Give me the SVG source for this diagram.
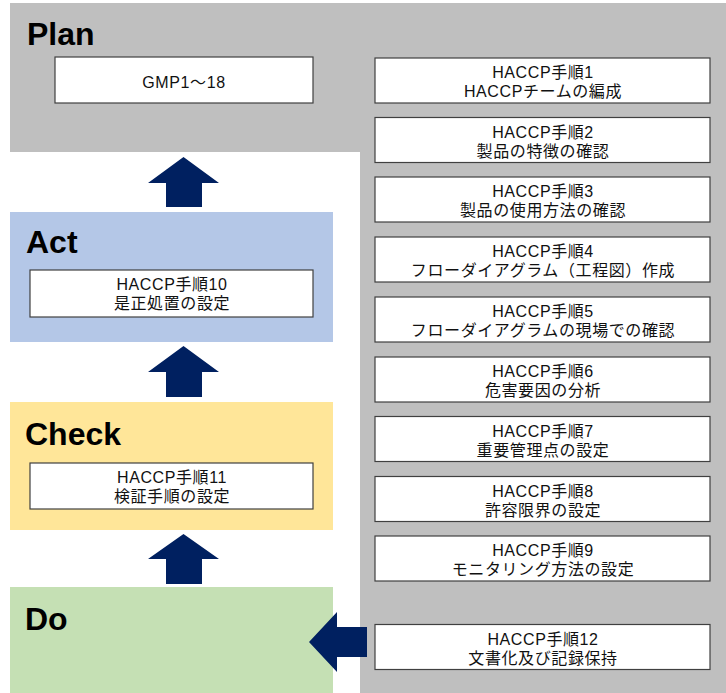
<svg xmlns="http://www.w3.org/2000/svg" width="726" height="693" viewBox="0 0 726 693">
<style>
.title{font-family:"Liberation Sans","Noto Sans",sans-serif;font-weight:bold;font-size:32px;fill:#000}
.box{fill:#fff;stroke:#404040;stroke-width:1.2}
.t{font-family:"Liberation Sans","Noto Sans CJK JP",sans-serif;font-size:16px;fill:#111;text-anchor:middle;letter-spacing:0.6px}
.arr{fill:#002060}
</style>
<rect width="726" height="693" fill="#fff"/>
<path d="M10,3 H726 V693 H360 V152 H10 Z" fill="#bfbfbf"/>
<g id="plan">
<text class="title" x="27" y="45">Plan</text>
</g>
<g id="act">
<rect x="10" y="212" width="323" height="130" fill="#b4c7e7"/>
<text class="title" x="26" y="253">Act</text>
</g>
<g id="check">
<rect x="10" y="402" width="323" height="128" fill="#ffe699"/>
<text class="title" x="25" y="445">Check</text>
</g>
<g id="do">
<rect x="10" y="587" width="323" height="106" fill="#c5e0b4"/>
<text class="title" x="25" y="630">Do</text>
</g>
<g id="gmp"><rect class="box" x="55" y="57" width="258" height="46"/><text class="t" x="184" y="88">GMP1～18</text></g>
<g id="step10"><rect class="box" x="30" y="270" width="283" height="47"/><text class="t" x="172" y="290">HACCP手順10</text><text class="t" x="172" y="309">是正処置の設定</text></g>
<g id="step11"><rect class="box" x="30" y="463" width="283" height="46"/><text class="t" x="172" y="483">HACCP手順11</text><text class="t" x="172" y="502">検証手順の設定</text></g>
<g id="step1"><rect class="box" x="375" y="58" width="335" height="45"/><text class="t" x="543" y="78">HACCP手順1</text><text class="t" x="543" y="97">HACCPチームの編成</text></g>
<g id="step2"><rect class="box" x="375" y="117.5" width="335" height="45"/><text class="t" x="543" y="137.5">HACCP手順2</text><text class="t" x="543" y="156.5">製品の特徴の確認</text></g>
<g id="step3"><rect class="box" x="375" y="177" width="335" height="45"/><text class="t" x="543" y="197">HACCP手順3</text><text class="t" x="543" y="216">製品の使用方法の確認</text></g>
<g id="step4"><rect class="box" x="375" y="237" width="335" height="45"/><text class="t" x="543" y="257">HACCP手順4</text><text class="t" x="543" y="276">フローダイアグラム（工程図）作成</text></g>
<g id="step5"><rect class="box" x="375" y="297" width="335" height="45"/><text class="t" x="543" y="317">HACCP手順5</text><text class="t" x="543" y="336">フローダイアグラムの現場での確認</text></g>
<g id="step6"><rect class="box" x="375" y="357" width="335" height="45"/><text class="t" x="543" y="377">HACCP手順6</text><text class="t" x="543" y="396">危害要因の分析</text></g>
<g id="step7"><rect class="box" x="375" y="416.5" width="335" height="45"/><text class="t" x="543" y="436.5">HACCP手順7</text><text class="t" x="543" y="455.5">重要管理点の設定</text></g>
<g id="step8"><rect class="box" x="375" y="476.5" width="335" height="45"/><text class="t" x="543" y="496.5">HACCP手順8</text><text class="t" x="543" y="515.5">許容限界の設定</text></g>
<g id="step9"><rect class="box" x="375" y="536" width="335" height="45"/><text class="t" x="543" y="556">HACCP手順9</text><text class="t" x="543" y="575">モニタリング方法の設定</text></g>
<g id="step12"><rect class="box" x="375" y="624.5" width="335" height="45"/><text class="t" x="543" y="644.5">HACCP手順12</text><text class="t" x="543" y="663.5">文書化及び記録保持</text></g>
<g id="connectors">
<path class="arr" d="M183.5,157 L219,183 H202 V207 H166 V183 H148 Z"/>
<path class="arr" d="M183.5,346 L219,372 H202 V397 H166 V372 H148 Z"/>
<path class="arr" d="M183.5,534 L219,559 H202 V584 H166 V559 H148 Z"/>
<path class="arr" d="M309,642 L337,612 V627 H367 V657 H337 V672 Z"/>
</g>
</svg>
